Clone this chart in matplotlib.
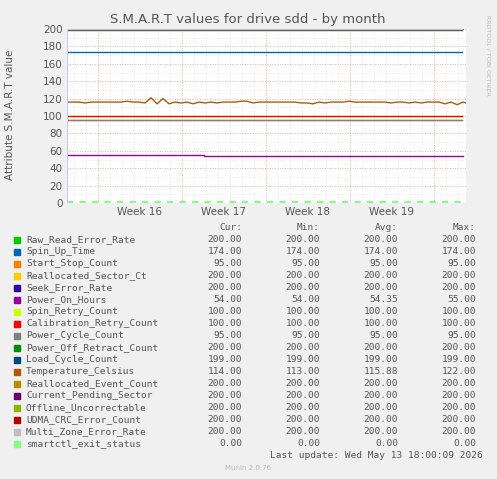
import matplotlib
matplotlib.use("Agg")
import matplotlib.pyplot as plt
import numpy as np

names = ["Raw_Read_Error_Rate","Spin_Up_Time","Start_Stop_Count","Reallocated_Sector_Ct",
         "Seek_Error_Rate","Power_On_Hours","Spin_Retry_Count","Calibration_Retry_Count",
         "Power_Cycle_Count","Power_Off_Retract_Count","Load_Cycle_Count","Temperature_Celsius",
         "Reallocated_Event_Count","Current_Pending_Sector","Offline_Uncorrectable",
         "UDMA_CRC_Error_Count","Multi_Zone_Error_Rate","smartctl_exit_status"]
colors = ["#00CC00","#0066B3","#FF8000","#FFCC00","#330099","#990099","#CCFF00","#FF0000",
          "#808080","#008F00","#00487D","#B35A00","#B38F00","#6B006B","#8FB300","#B30000",
          "#BEBEBE","#80FF80"]
cur = [200,174,95,200,200,54,100,100,95,200,199,114,200,200,200,200,200,0]
mins = [200,174,95,200,200,54,100,100,95,200,199,113,200,200,200,200,200,0]
avgs = [200,174,95,200,200,54.35,100,100,95,200,199,115.88,200,200,200,200,200,0]
maxs = [200,174,95,200,200,55,100,100,95,200,199,122,200,200,200,200,200,0]

# temperature samples every half day
temp = [116,116,116,115,116,116,116,116,116,116,117,116,116,115,121,114,120,114,116,115,
        116,114,116,115,116,115,116,116,116,117,117,115,116,116,116,116,116,116,116,115,
        115,114,116,115,116,116,116,117,116,116,116,116,116,116,115,116,116,115,116,115,
        116,116,116,114,116,113,116,114]
poh_days = [0, 11.4, 11.4, 33]
poh_vals = [55, 55, 54, 54]
week_labels = ["Week 16","Week 17","Week 18","Week 19"]

W, H = 497, 479
fig = plt.figure(figsize=(W/100, H/100), dpi=100, facecolor="#F0F0F0")
x0, x1, ytop, ybot = 67, 466, 29, 203
ax = fig.add_axes([x0/W, 1-ybot/H, (x1-x0)/W, (ybot-ytop)/H])
ax.set_facecolor("white")
days = 33.25
ax.set_xlim(0, days)
ax.set_ylim(0, 200)

for d in np.arange(0, days, 1):
    ax.axvline(d+0.55, color="#DDDDDD", lw=0.5, ls=(0,(1,2)), zorder=0)
for v in range(0, 201, 10):
    ax.axhline(v, color="#DDDDDD", lw=0.5, ls=(0,(1,2)), zorder=0)
for v in range(0, 201, 20):
    ax.axhline(v, color="#F0A0A0", lw=0.6, ls=(0,(1,2)), zorder=0)
for wk in range(5):
    ax.axvline(2.55+7*wk, color="#F0A0A0", lw=0.6, ls=(0,(1,2)), zorder=0)

t = np.arange(len(temp))*0.5
for i, n in enumerate(names):
    if n == "Temperature_Celsius":
        ax.plot(t, temp, color=colors[i], lw=1)
    elif n == "Power_On_Hours":
        ax.plot(poh_days, poh_vals, color=colors[i], lw=1)
    elif n == "smartctl_exit_status":
        ax.plot([0, days-0.3], [cur[i]+0.6]*2, color=colors[i], lw=1.5, ls=(0,(3,3)))
    else:
        ax.plot([0, days-0.3], [cur[i]]*2, color=colors[i], lw=1)

ax.set_xticks([2.55+3.5+7*k for k in range(4)])
ax.set_xticklabels(week_labels)
ax.set_yticks(range(0, 201, 20))
ax.tick_params(axis="both", length=0, labelsize=7.5, colors="#555555", pad=3)
for s in ax.spines.values():
    s.set_visible(False)
ax.axhline(0, color="#C8C8FF", lw=0.8)
ax.axvline(0, color="#C8C8FF", lw=0.8)

fig.text(248/W, 1-19/H, "S.M.A.R.T values for drive sdd - by month", ha="center", va="center",
         fontsize=9.5, color="#555555")
fig.text(10/W, 1-115/H, "Attribute S.M.A.R.T value", rotation=90, ha="center", va="center",
         fontsize=7.5, color="#555555")
fig.text(488/W, 1-55/H, "RRDTOOL / TOBI OETIKER", rotation=270, ha="center", va="center",
         fontsize=4.5, color="#BBBBBB")

mono = "DejaVu Sans Mono"
fs = 6.8
tc = "#555555"
cols_x = [242, 320, 398, 476]
hdr = ["Cur:", "Min:", "Avg:", "Max:"]
for cx, h in zip(cols_x, hdr):
    fig.text(cx/W, 1-227/H, h, ha="right", va="center", family=mono, fontsize=fs, color=tc)
for i, n in enumerate(names):
    y = 240 + 12*i
    fig.patches.append(plt.Rectangle((14/W, 1-(y+3)/H), 6/W, 6/H, transform=fig.transFigure,
                                     color=colors[i], figure=fig))
    fig.text(26/W, 1-y/H, n, ha="left", va="center", family=mono, fontsize=fs, color=tc)
    for cx, v in zip(cols_x, [cur[i], mins[i], avgs[i], maxs[i]]):
        fig.text(cx/W, 1-y/H, f"{v:.2f}", ha="right", va="center", family=mono, fontsize=fs, color=tc)
fig.text(483/W, 1-456/H, "Last update: Wed May 13 18:00:09 2026", ha="right", va="center",
         family=mono, fontsize=fs, color=tc)
fig.text(248/W, 1-468/H, "Munin 2.0.76", ha="center", va="center", fontsize=5, color="#BBBBBB")

fig.savefig("out.png", dpi=100, facecolor=fig.get_facecolor())
